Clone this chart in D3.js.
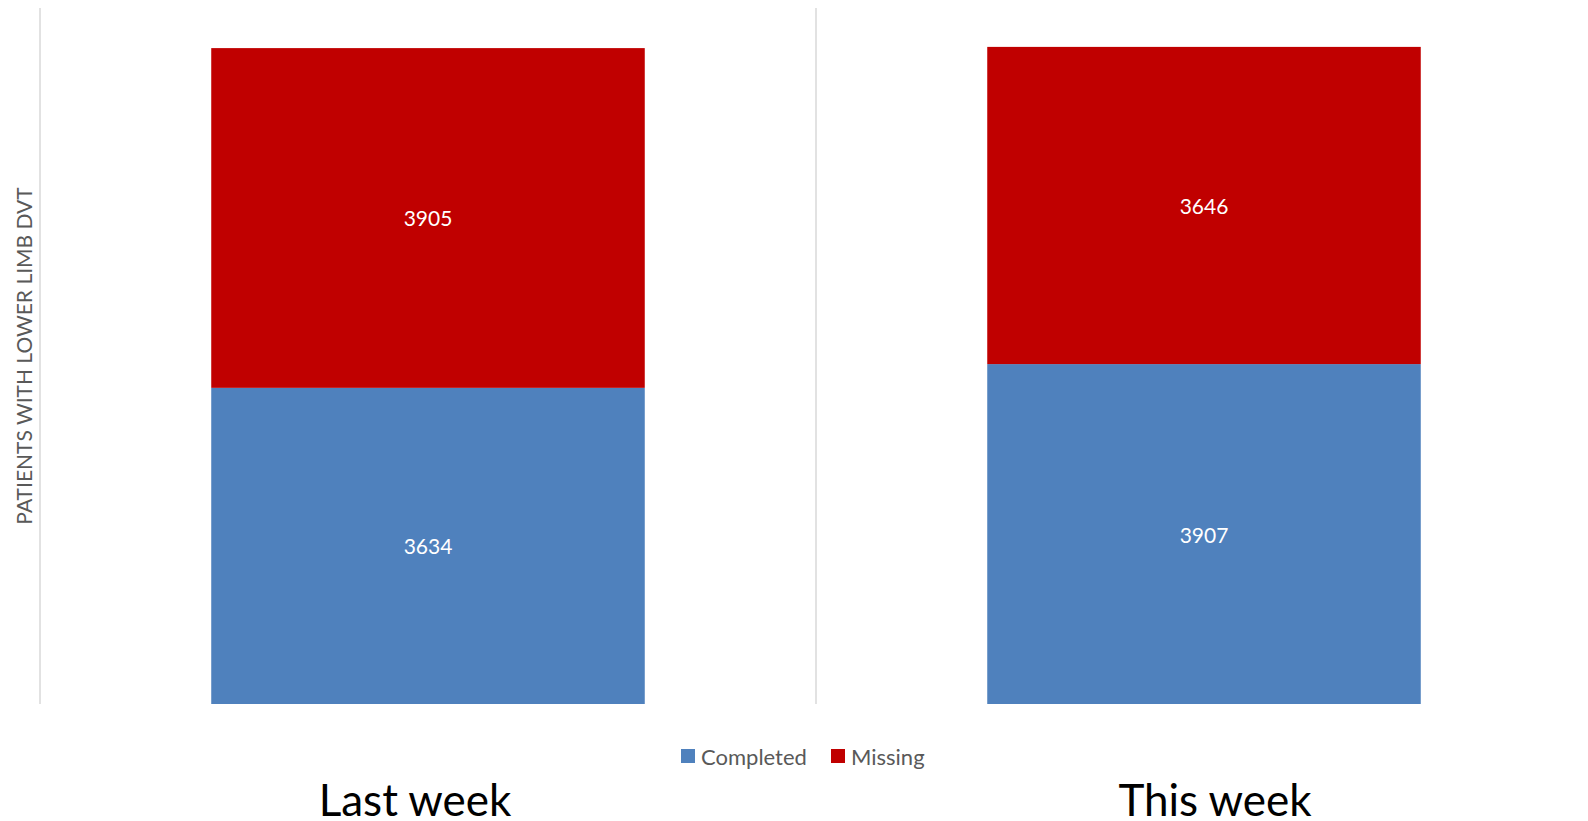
<!DOCTYPE html>
<html>
<head>
<meta charset="utf-8">
<script src="https://cdn.jsdelivr.net/npm/d3@7"></script>
<style>
  html, body { margin: 0; padding: 0; background: #fff; overflow: hidden; }
  svg { display: block; }
  text { font-family: Lato, "Open Sans", sans-serif; }
</style>
</head>
<body>
<svg id="chart" width="1588" height="821"></svg>
<script>
const categories = ["Last week", "This week"];
const seriesNames = ["Completed", "Missing"];
const completed = [3634, 3907];
const missing = [3905, 3646];
const seriesColors = ["#4F81BD", "#C00000"];
const yAxisTitle = "PATIENTS WITH LOWER LIMB DVT";
const yMax = 8000;

const W = 1588, H = 821;
const plot = { left: 40, right: 1592, top: 8, bottom: 704 };
const svg = d3.select("#chart");

const x = d3.scaleBand().domain(categories).range([plot.left, plot.right]).paddingInner(0).paddingOuter(0);
const y = d3.scaleLinear().domain([0, yMax]).range([plot.bottom, plot.top]);
const barFrac = 1 / 1.79; // Excel gap width 79%

const rows = categories.map((c, i) => ({ cat: c, Completed: completed[i], Missing: missing[i] }));
const stack = d3.stack().keys(seriesNames)(rows);
const color = d3.scaleOrdinal().domain(seriesNames).range(seriesColors);

// category separators / value axis line
svg.append("g").selectAll("line").data(categories).join("line")
  .attr("x1", d => x(d)).attr("x2", d => x(d))
  .attr("y1", plot.top).attr("y2", plot.bottom)
  .attr("stroke", "#d9d9d9").attr("stroke-width", 1.5);

const bw = x.bandwidth() * barFrac;
const bx = d => x(d.data.cat) + (x.bandwidth() - bw) / 2;

const layers = svg.append("g").selectAll("g").data(stack).join("g")
  .attr("fill", d => color(d.key));
layers.selectAll("rect").data(d => d).join("rect")
  .attr("x", bx).attr("width", bw)
  .attr("y", d => y(d[1])).attr("height", d => y(d[0]) - y(d[1]));

// data labels
const labels = svg.append("g").selectAll("g").data(stack).join("g");
labels.selectAll("text").data(d => d).join("text")
  .attr("x", d => bx(d) + bw / 2)
  .attr("y", d => (y(d[0]) + y(d[1])) / 2)
  .attr("text-anchor", "middle").attr("dominant-baseline", "central")
  .attr("fill", "#fff").attr("font-size", 21)
  .text(d => d[1] - d[0]);

// y axis title
svg.append("text")
  .attr("transform", `translate(23, ${(plot.top + plot.bottom) / 2}) rotate(-90)`)
  .attr("text-anchor", "middle").attr("dominant-baseline", "central")
  .attr("fill", "#595959").attr("font-size", 21)
  .text(yAxisTitle);

// legend
const legendX = [681, 831];
const lg = svg.append("g").selectAll("g").data(seriesNames).join("g")
  .attr("transform", (d, i) => `translate(${legendX[i]}, 749)`);
lg.append("rect").attr("width", 14).attr("height", 14).attr("fill", d => color(d));
lg.append("text").attr("x", 20).attr("y", 7).attr("dominant-baseline", "central")
  .attr("fill", "#595959").attr("font-size", 22).text(d => d);

// category labels
const catOffset = [-13, 11];
svg.append("g").selectAll("text").data(categories).join("text")
  .attr("x", (d, i) => x(d) + x.bandwidth() / 2 + catOffset[i])
  .attr("y", 816)
  .attr("text-anchor", "middle").attr("fill", "#000").attr("font-size", 44)
  .text(d => d);
</script>
</body>
</html>
